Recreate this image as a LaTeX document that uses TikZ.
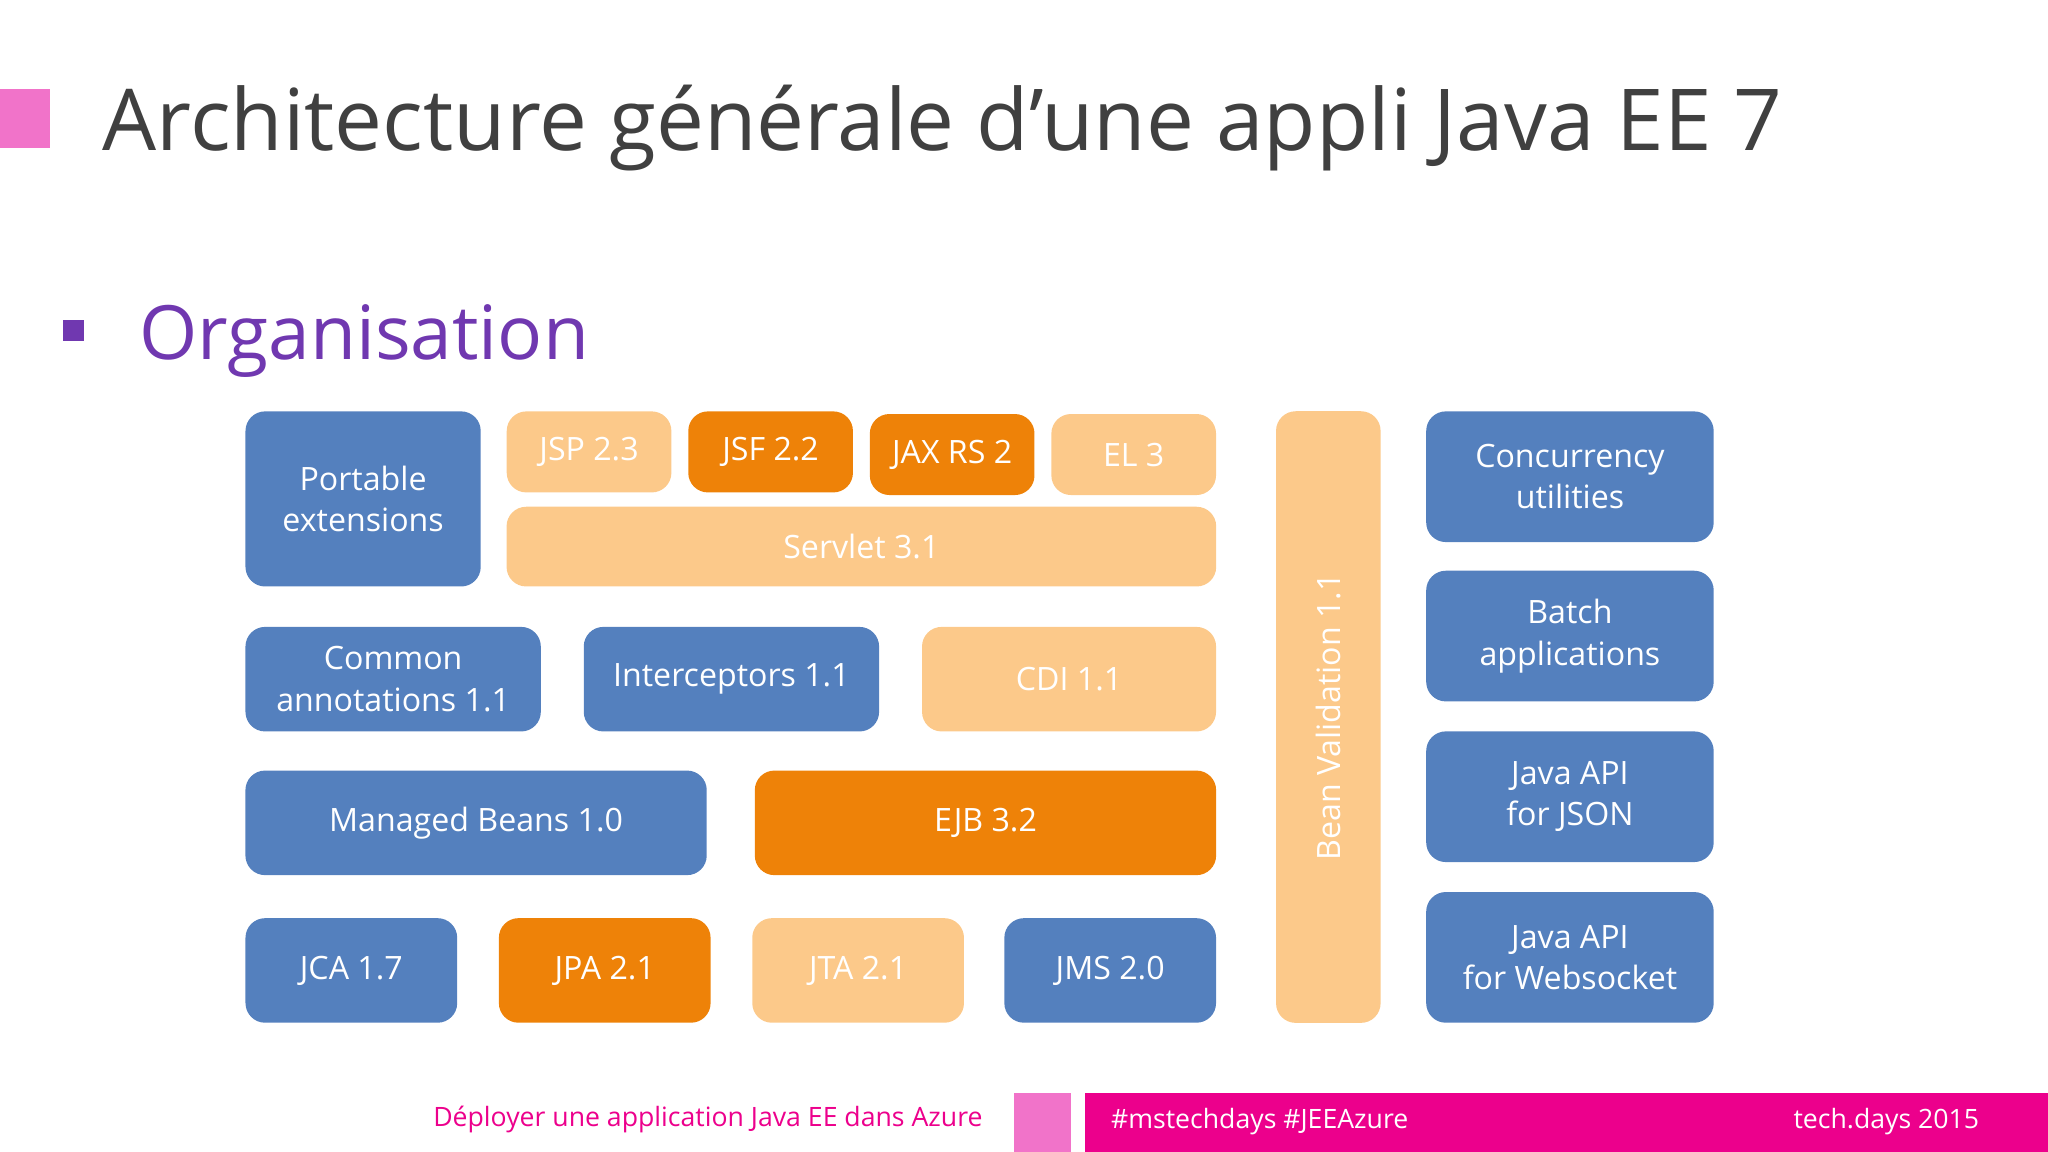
\documentclass[tikz,border=0pt]{standalone}
\usepackage{fontspec}
\setmainfont{Open Sans}
\definecolor{bl}{HTML}{5480BE}
\definecolor{lo}{HTML}{FCC98A}
\definecolor{or}{HTML}{EE8208}
\definecolor{pk}{HTML}{F173C9}
\definecolor{mg}{HTML}{EC008C}
\definecolor{pu}{HTML}{7038B0}
\definecolor{tg}{HTML}{404040}
\tikzset{b/.style={rounded corners=0.15cm,text=white,align=center,inner sep=0pt,font=\fontsize{7}{9}\selectfont},
 B/.style={b,fill=bl},L/.style={b,fill=lo},O/.style={b,fill=or}}
\begin{document}
\begin{tikzpicture}[x=0.01cm,y=-0.01cm]
\useasboundingbox (0,0) rectangle (1568,882);
\fill[pk] (0,68) rectangle (38,113);
\node[anchor=base west,inner sep=0,text=tg,font=\fontsize{18.6}{22}\selectfont] (title) at (78,115) {Architecture générale d’une appli Java EE 7};
\fill[pu] (48,245) rectangle (64,261);
\node[anchor=base west,inner sep=0,text=pu,font=\fontsize{16.3}{20}\selectfont] (org) at (106,275) {Organisation};
\node[B,minimum width=1.80cm,minimum height=1.34cm] (pe) at (278,382) {Portable\\extensions};
\node[L,minimum width=1.26cm,minimum height=0.62cm] (jsp) at (451,346) {JSP 2.3};
\node[O,minimum width=1.26cm,minimum height=0.62cm] (jsf) at (590,346) {JSF 2.2};
\node[O,minimum width=1.26cm,minimum height=0.62cm] (jax) at (729,348) {JAX RS 2};
\node[L,minimum width=1.26cm,minimum height=0.62cm] (el) at (868,348) {EL 3};
\node[L,minimum width=5.43cm,minimum height=0.61cm] (srv) at (659.5,418.5) {Servlet 3.1};
\node[B,minimum width=2.26cm,minimum height=0.80cm] (ca) at (301,520) {Common\\annotations 1.1};
\node[B,minimum width=2.26cm,minimum height=0.80cm] (int) at (560,520) {Interceptors 1.1};
\node[L,minimum width=2.25cm,minimum height=0.80cm] (cdi) at (818.5,520) {CDI 1.1};
\node[B,minimum width=3.53cm,minimum height=0.80cm] (mb) at (364.5,630) {Managed Beans 1.0};
\node[O,minimum width=3.53cm,minimum height=0.80cm] (ejb) at (754.5,630) {EJB 3.2};
\node[B,minimum width=1.62cm,minimum height=0.80cm] (jca) at (269,743) {JCA 1.7};
\node[O,minimum width=1.62cm,minimum height=0.80cm] (jpa) at (463,743) {JPA 2.1};
\node[L,minimum width=1.62cm,minimum height=0.80cm] (jta) at (657,743) {JTA 2.1};
\node[B,minimum width=1.62cm,minimum height=0.80cm] (jms) at (850,743) {JMS 2.0};
\node[L,minimum width=0.80cm,minimum height=4.68cm] (bv) at (1017,549) {};
\node[text=white,rotate=90,font=\fontsize{7}{9}\selectfont] (bvt) at (1017,549) {Bean Validation 1.1};
\node[B,minimum width=2.20cm,minimum height=1.00cm] (cu) at (1202,365) {Concurrency\\utilities};
\node[B,minimum width=2.20cm,minimum height=1.00cm] (ba) at (1202,487) {Batch\\applications};
\node[B,minimum width=2.20cm,minimum height=1.00cm] (js) at (1202,610) {Java API\\for JSON};
\node[B,minimum width=2.20cm,minimum height=1.00cm] (ws) at (1202,733) {Java API\\for Websocket};
\node[anchor=east,text=mg,font=\fontsize{5.8}{7}\selectfont,inner sep=0] (foot) at (753,857) {Déployer une application Java EE dans Azure};
\fill[pk] (776,837) rectangle (820,882);
\fill[mg] (831,837) rectangle (1568,882);
\node[anchor=west,text=white,font=\fontsize{5.8}{7}\selectfont,inner sep=0] (tag) at (850,859) {\#mstechdays \#JEEAzure};
\node[anchor=east,text=white,font=\fontsize{5.8}{7}\selectfont,inner sep=0] (td) at (1516,859) {tech.days 2015};
\end{tikzpicture}
\end{document}
